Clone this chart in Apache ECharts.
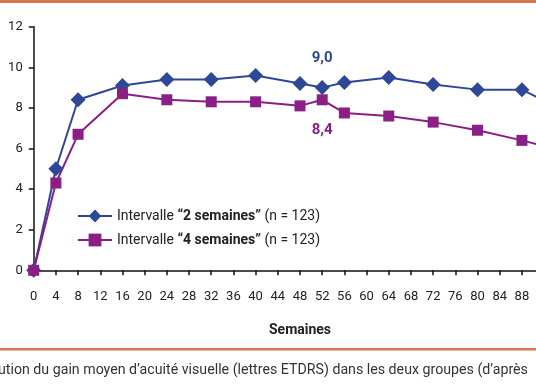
<!DOCTYPE html>
<html><head><meta charset="utf-8">
<style>html,body{margin:0;padding:0;background:#fff}#c{width:536px;height:386px}</style>
<script src="https://cdn.jsdelivr.net/npm/echarts@6/dist/echarts.min.js"></script>
</head><body><div id="c"></div>
<script>
var weeks = [0, 4, 8, 16, 24, 32, 40, 48, 52, 56, 64, 72, 80, 88, 96];
var serie2sem = [0, 5.0, 8.4, 9.1, 9.4, 9.4, 9.6, 9.2, 9.0, 9.25, 9.5, 9.15, 8.9, 8.9, 7.8];
var serie4sem = [0, 4.3, 6.7, 8.7, 8.4, 8.3, 8.3, 8.1, 8.4, 7.75, 7.6, 7.3, 6.9, 6.4, 5.85];
var seriesNames = ['Intervalle “2 semaines” (n = 123)', 'Intervalle “4 semaines” (n = 123)'];
var labelWeek = 52;
var label2 = '9,0', label4 = '8,4';
var caption = 'ution du gain moyen d’acuité visuelle (lettres ETDRS) dans les deux groupes (d’après';

var BLUE = '#2f4797', PURPLE = '#8a1f85', ORANGE = '#d8764f';
var FONT = 'Roboto';

function build(vals, lab, pos, dist, color) {
  return weeks.map(function (w, i) {
    var d = { value: [w, vals[i]] };
    if (w === labelWeek) {
      d.label = { show: true, formatter: lab, position: pos, distance: dist,
        color: color, fontSize: 15, fontWeight: 'bold', fontFamily: FONT };
    }
    return d;
  });
}

var chart = echarts.init(document.getElementById('c'), null, { renderer: 'canvas' });
chart.setOption({
  animation: false,
  backgroundColor: '#fff',
  grid: { left: 33.7, top: 26.7, width: 532.6, height: 243.6, containLabel: false, outerBoundsMode: 'none' },
  xAxis: {
    type: 'value', min: 0, max: 96, interval: 4,
    name: 'Semaines', nameLocation: 'middle', nameGap: 53,
    nameTextStyle: { fontFamily: FONT, fontSize: 14, fontWeight: 'bold', color: '#222' },
    axisLine: { show: true, onZero: false, lineStyle: { color: '#111', width: 1.5 } },
    axisTick: { show: true, inside: false, length: 5, lineStyle: { color: '#111', width: 1.5 } },
    axisLabel: { margin: 20, fontFamily: FONT, fontSize: 13, color: '#222', showMaxLabel: true },
    splitLine: { show: false }
  },
  yAxis: {
    type: 'value', min: 0, max: 12, interval: 2,
    axisLine: { show: true, lineStyle: { color: '#111', width: 1.5 } },
    axisTick: { show: true, length: 5, lineStyle: { color: '#111', width: 1.5 } },
    axisLabel: { margin: 11, fontFamily: FONT, fontSize: 13, color: '#222' },
    splitLine: { show: false }
  },
  legend: {
    show: true, orient: 'vertical', left: 72, top: 204, itemWidth: 34, itemHeight: 16, itemGap: 10,
    data: seriesNames,
    formatter: function (n) {
      var m = n.match(/^(Intervalle )(“[^”]*”)(.*)$/);
      return '{a|' + m[1] + '}{b|' + m[2] + '}{a|' + m[3] + '}';
    },
    textStyle: {
      rich: {
        a: { fontFamily: FONT, fontSize: 14, color: '#222' },
        b: { fontFamily: FONT, fontSize: 14, color: '#222', fontWeight: 'bold' }
      }
    }
  },
  graphic: [
    { type: 'rect', shape: { x: 0, y: 0, width: 536, height: 3 }, style: { fill: ORANGE } },
    { type: 'rect', shape: { x: 0, y: 348, width: 536, height: 2.5 }, style: { fill: ORANGE } },
    { type: 'text', left: -2, top: 363, style: { text: caption, fontFamily: FONT, fontSize: 14.2, fill: '#333' } }
  ],
  series: [
    {
      name: seriesNames[0], type: 'line', data: build(serie2sem, label2, 'top', 14, BLUE),
      symbol: 'diamond', symbolSize: 15, clip: false,
      lineStyle: { color: BLUE, width: 2 }, itemStyle: { color: BLUE }
    },
    {
      name: seriesNames[1], type: 'line', data: build(serie4sem, label4, 'bottom', 17, PURPLE),
      symbol: 'rect', symbolSize: 11, clip: false,
      lineStyle: { color: PURPLE, width: 2 }, itemStyle: { color: PURPLE }
    }
  ]
});
</script></body></html>
